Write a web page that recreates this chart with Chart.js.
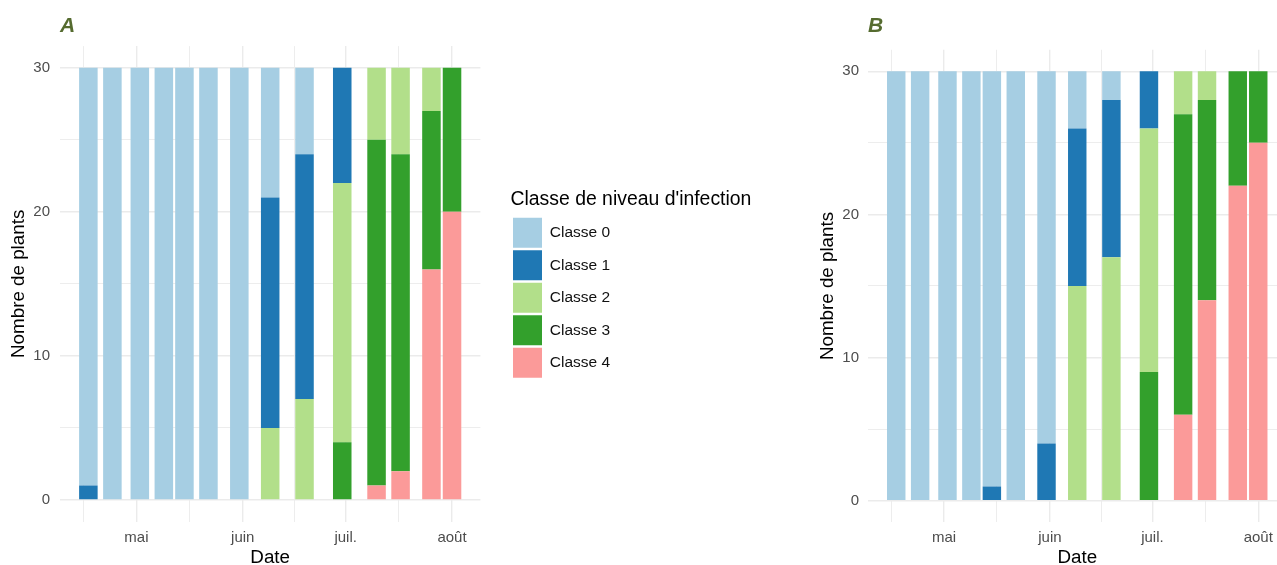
<!DOCTYPE html>
<html><head><meta charset="utf-8">
<script src="https://cdn.jsdelivr.net/npm/chart.js@4.4.1/dist/chart.umd.min.js"></script>
<style>
html,body{margin:0;padding:0;background:#fff;overflow:hidden;width:1277px;height:565px;position:relative;}
canvas{position:absolute;top:0;}
#cA{left:0;}
#cB{left:809px;}
</style></head><body>
<canvas id="cA" width="800" height="565"></canvas>
<canvas id="cB" width="480" height="565"></canvas>
<script>
// ---------- data ----------
const dates = ['2023-04-17','2023-04-24','2023-05-02','2023-05-09','2023-05-15','2023-05-22','2023-05-31',
               '2023-06-09','2023-06-19','2023-06-30','2023-07-10','2023-07-17','2023-07-26','2023-08-01'];
const classLabels = ['Classe 0','Classe 1','Classe 2','Classe 3','Classe 4'];

const panelA_classe0 = [29,30,30,30,30,30,30, 9, 6, 0, 0, 0, 0, 0];
const panelA_classe1 = [ 1, 0, 0, 0, 0, 0, 0,16,17, 8, 0, 0, 0, 0];
const panelA_classe2 = [ 0, 0, 0, 0, 0, 0, 0, 5, 7,18, 5, 6, 3, 0];
const panelA_classe3 = [ 0, 0, 0, 0, 0, 0, 0, 0, 0, 4,24,22,11,10];
const panelA_classe4 = [ 0, 0, 0, 0, 0, 0, 0, 0, 0, 0, 1, 2,16,20];

const panelB_classe0 = [30,30,30,30,29,30,26, 4, 2, 0, 0, 0, 0, 0];
const panelB_classe1 = [ 0, 0, 0, 0, 1, 0, 4,11,11, 4, 0, 0, 0, 0];
const panelB_classe2 = [ 0, 0, 0, 0, 0, 0, 0,15,17,17, 3, 2, 0, 0];
const panelB_classe3 = [ 0, 0, 0, 0, 0, 0, 0, 0, 0, 9,21,14, 8, 5];
const panelB_classe4 = [ 0, 0, 0, 0, 0, 0, 0, 0, 0, 0, 6,14,22,25];

const monthTickDates  = ['2023-05-01','2023-06-01','2023-07-01','2023-08-01'];
const monthTickLabels = ['mai','juin','juil.','août'];
const minorTickDates  = ['2023-04-15T12:00:00Z','2023-05-16T12:00:00Z','2023-06-16T00:00:00Z','2023-07-16T12:00:00Z'];
const yMajorTicks = [0,10,20,30];
const yMinorTicks = [5,15,25];

const xTitle = 'Date';
const yTitle = 'Nombre de plants';
const legendTitle = "Classe de niveau d'infection";

// ---------- style ----------
const palette = ['#A6CEE3','#1F78B4','#B2DF8A','#33A02C','#FB9A99'];
const FONT = "'Liberation Sans', Arial, Helvetica, sans-serif";
const GRID = '#EBEBEB';
const DAY = 86400000;
const toDay = s => Date.parse(s) / DAY;

const legendPlacer = {
  id: 'legendPlacer',
  afterLayout(chart) {
    const o = chart.options.plugins.legendPlacer;
    const lg = chart.legend;
    if (!o || !lg || !chart.options.plugins.legend.display) return;
    lg.left = o.x; lg.width = o.w; lg.right = o.x + o.w;
    lg.top = o.y; lg.height = o.h; lg.bottom = o.y + o.h;
  }
};

function buildChart(canvasId, tag, series, geo, withLegend) {
  const xs = dates.map(toDay);
  const sorted = [...xs].sort((a,b)=>a-b);
  let gap = Infinity;
  for (let i = 1; i < sorted.length; i++) gap = Math.min(gap, sorted[i]-sorted[i-1]);
  const half = 0.45 * gap;
  const lo = sorted[0] - half, hi = sorted[sorted.length-1] + half;
  const ex = 0.05 * (hi - lo);

  const majorX = monthTickDates.map(toDay);
  const minorX = minorTickDates.map(toDay);
  const allX = [...majorX, ...minorX].sort((a,b)=>a-b);
  const isMajorX = v => majorX.some(m => Math.abs(m - v) < 1e-6);

  const totals = dates.map((d,i) => series.reduce((s,arr)=>s+arr[i],0));
  const yTop = Math.max(...totals);
  const yEx = 0.05 * yTop;
  const allY = [...yMajorTicks, ...yMinorTicks].sort((a,b)=>a-b);

  const datasets = [4,3,2,1,0].map(k => ({
    label: classLabels[k],
    data: xs.map((x,i) => ({x: x, y: series[k][i]})),
    backgroundColor: palette[k],
    hoverBackgroundColor: palette[k],
    borderWidth: 0,
    barPercentage: 0.9,
    categoryPercentage: 1.0
  }));

  return new Chart(document.getElementById(canvasId), {
    type: 'bar',
    data: { datasets },
    plugins: [legendPlacer],
    options: {
      responsive: false,
      animation: false,
      events: [],
      layout: { padding: { left: 0, top: 0, right: geo.padRight, bottom: 0 } },
      plugins: {
        tooltip: { enabled: false },
        legendPlacer: withLegend ? { x: 510.5, y: 189.7, w: 270, h: 320 } : null,
        legend: withLegend ? {
          display: true,
          position: 'chartArea',
          align: 'start',
          reverse: true,
          title: { display: true, text: legendTitle, position: 'start', color: '#000',
                   font: { family: FONT, size: 19.4 }, padding: { top: 0, bottom: 2.3 } },
          labels: { boxWidth: 29, boxHeight: 30, padding: 2.5, color: '#111',
                    font: { family: FONT, size: 15.5 } }
        } : { display: false },
        title: {
          display: true, text: tag, align: 'start', fullSize: false, color: '#556B2F',
          font: { family: FONT, size: 21, weight: 'bold', style: 'italic', lineHeight: 1.2 },
          padding: { top: 13.4, bottom: geo.tagPadBottom }
        }
      },
      scales: {
        x: {
          type: 'linear', stacked: true, offset: false,
          min: lo - ex, max: hi + ex,
          afterBuildTicks: s => { s.ticks = allX.map(v => ({ value: v })); },
          afterFit: s => { s.height = geo.xAxisH; },
          grid: { offset: false, drawTicks: false, color: GRID,
                  lineWidth: c => (c.tick && isMajorX(c.tick.value)) ? 1.4 : 0.9 },
          border: { display: false },
          ticks: {
            autoSkip: false, maxRotation: 0, minRotation: 0, padding: geo.xTickPad,
            color: '#4D4D4D', font: { family: FONT, size: 15 },
            callback: v => { const i = majorX.findIndex(m => Math.abs(m - v) < 1e-6); return i >= 0 ? monthTickLabels[i] : ''; }
          },
          title: { display: true, text: xTitle, color: '#000',
                   font: { family: FONT, size: 18.8, lineHeight: 0.8 }, padding: { top: 0, bottom: 0 } }
        },
        y: {
          type: 'linear', stacked: true,
          min: -yEx, max: yTop + yEx,
          afterBuildTicks: s => { s.ticks = allY.map(v => ({ value: v })); },
          afterFit: s => { s.width = geo.yAxisW; },
          grid: { drawTicks: false, color: GRID,
                  lineWidth: c => (c.tick && yMajorTicks.includes(c.tick.value)) ? 1.4 : 0.9 },
          border: { display: false },
          ticks: {
            padding: geo.yTickPad, color: '#4D4D4D', font: { family: FONT, size: 15 },
            callback: v => yMajorTicks.includes(v) ? String(v) : ''
          },
          title: { display: true, text: yTitle, color: '#000',
                   font: { family: FONT, size: 18.8, lineHeight: 1 }, padding: { top: 9.1, bottom: 0 } }
        }
      }
    }
  });
}

buildChart('cA', 'A',
  [panelA_classe0, panelA_classe1, panelA_classe2, panelA_classe3, panelA_classe4],
  { padRight: 319.6, yAxisW: 60, xAxisH: 43.4, xTickPad: 7.5, yTickPad: 10, tagPadBottom: 7.5 },
  true);

buildChart('cB', 'B',
  [panelB_classe0, panelB_classe1, panelB_classe2, panelB_classe3, panelB_classe4],
  { padRight: 2.5, yAxisW: 59, xAxisH: 42.8, xTickPad: 6.9, yTickPad: 9, tagPadBottom: 11.2 },
  false);
</script>
</body></html>
